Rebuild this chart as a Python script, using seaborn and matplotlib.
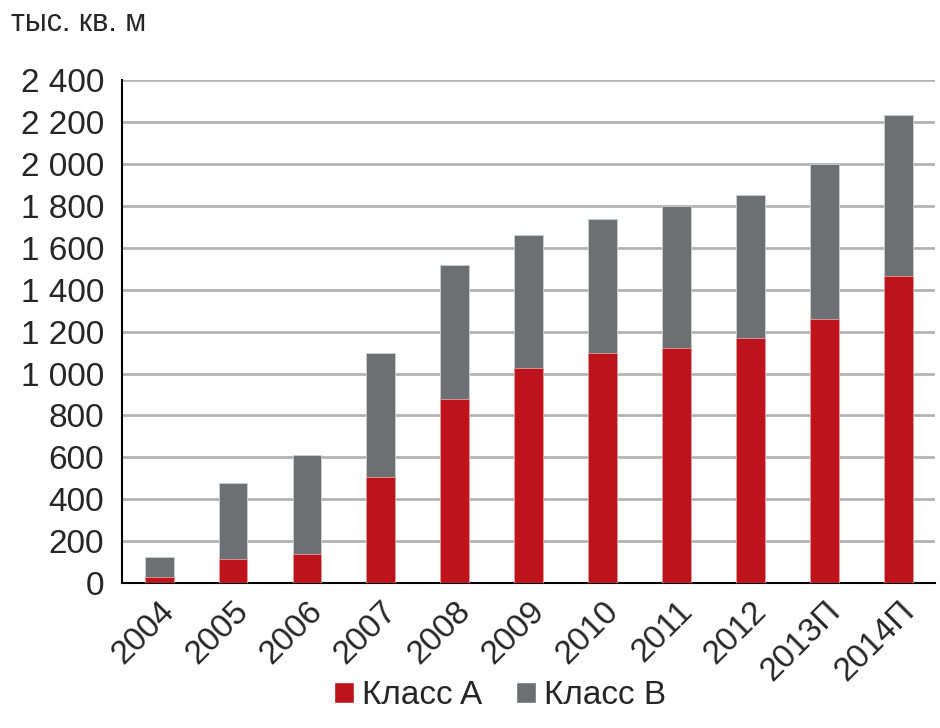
import numpy as np
import pandas as pd
import matplotlib
matplotlib.use('Agg')
import matplotlib.pyplot as plt
from matplotlib.patches import Patch
from matplotlib.ticker import FixedLocator
import seaborn as sns


years = ['2004', '2005', '2006', '2007', '2008', '2009', '2010', '2011', '2012', '2013П', '2014П']
class_a = [29, 115, 139, 504, 880, 1024, 1100, 1120, 1171, 1262, 1466]
total = [124, 477, 612, 1099, 1519, 1662, 1735, 1799, 1850, 2002, 2233]

y_ticks = [0, 200, 400, 600, 800, 1000, 1200, 1400, 1600, 1800, 2000, 2200, 2400]
y_labels = ['0', '200', '400', '600', '800', '1 000', '1 200', '1 400', '1 600',
            '1 800', '2 000', '2 200', '2 400']

RED = '#BD141C'
GRAY = '#6D7073'

sns.set_style('white')
plt.rcParams['font.family'] = ['Liberation Sans', 'DejaVu Sans']

df = pd.DataFrame({'year': years, 'class_a': class_a, 'total': total})

fig = plt.figure(figsize=(9.4, 7.28), dpi=100)
ax = fig.add_axes([0.13, 0.199, 0.865, 0.691])

# stacked: full bar in grey, class A drawn over it
sns.barplot(data=df, x='year', y='total', color=GRAY, width=0.39,
            edgecolor='#d0d0d0', linewidth=0.6, saturation=1, ax=ax, zorder=3)
sns.barplot(data=df, x='year', y='class_a', color=RED, width=0.39,
            edgecolor='#e0a0a0', linewidth=0.6, saturation=1, ax=ax, zorder=4)

ax.set_ylim(0, 2400)
ax.set_xlim(-0.5, len(years) - 0.5)
ax.set_yticks(y_ticks)
ax.set_yticklabels(y_labels, fontsize=24)
ax.yaxis.grid(True, color='#b3b3b3', linewidth=2, zorder=0)
ax.set_axisbelow(True)

ax.set_xticks(range(len(years)))
ax.set_xticklabels(years, fontsize=24, rotation=45, ha='right', rotation_mode='anchor')
ax.tick_params(axis='x', which='major', length=0, pad=9)
ax.xaxis.set_minor_locator(FixedLocator(np.arange(0.5, len(years) - 0.5, 1)))
ax.tick_params(axis='x', which='minor', length=8, width=1.5, color='black', direction='out')
ax.tick_params(axis='y', length=8, width=1.5, color='black', direction='out', pad=5)

ax.set_xlabel('')
ax.set_ylabel('')
for side in ['top', 'right']:
    ax.spines[side].set_visible(False)
for side in ['left', 'bottom']:
    ax.spines[side].set_color('black')
    ax.spines[side].set_linewidth(1.5)

fig.text(0.012, 0.968, 'тыс. кв. м', fontsize=22, ha='left', va='center')

handles = [Patch(facecolor=RED, label='Класс A'), Patch(facecolor=GRAY, label='Класс B')]
fig.legend(handles=handles, loc='lower center', bbox_to_anchor=(0.532, -0.018), ncol=2,
           frameon=False, fontsize=24, handlelength=0.6, handleheight=0.6,
           handletextpad=0.25, columnspacing=1.0)

fig.savefig('out.png', dpi=100)
